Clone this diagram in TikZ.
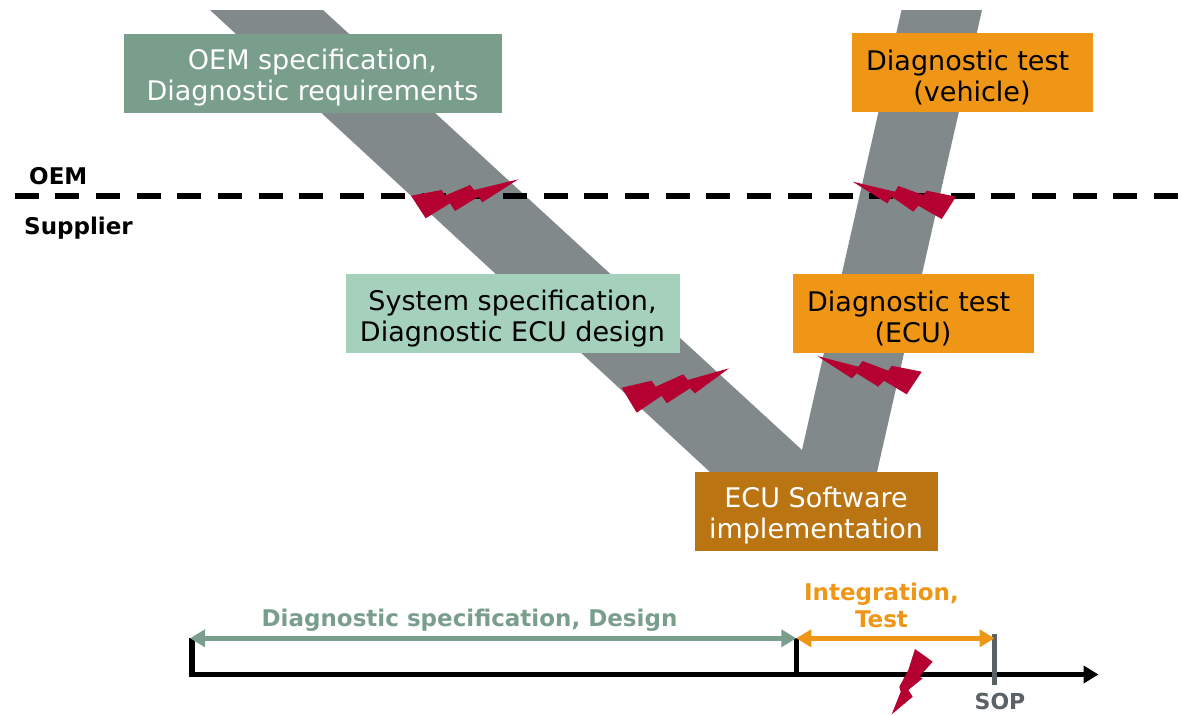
\documentclass[tikz,border=0pt]{standalone}
\usepackage{fontspec}
\usetikzlibrary{arrows.meta}
\setmainfont{DejaVu Sans}
\definecolor{bandgray}{HTML}{82898B}
\definecolor{oemgreen}{HTML}{7A9E8C}
\definecolor{sysgreen}{HTML}{A5D0BC}
\definecolor{testorange}{HTML}{EF9616}
\definecolor{implbrown}{HTML}{BA7412}
\definecolor{boltred}{HTML}{B50032}
\definecolor{sopgray}{HTML}{5A6265}
\newcommand{\firstline}{\rule{0pt}{30pt}}

\begin{document}
\begin{tikzpicture}[x=1pt,y=-1pt]
    \tikzstyle{phase box}=[
        minimum height = 79pt,
        inner sep = 0pt,
        align = center,
        font = \fontsize{27}{31}\selectfont
    ]
    \tikzstyle{small label}=[
        inner sep = 0pt,
        align = center,
        font = \bfseries\fontsize{23}{27}\selectfont
    ]
    \tikzstyle{bolt}=[
        fill = boltred,
        draw = none
    ]
    \tikzstyle{tip}=[
        {Triangle[length=15pt,width=17pt]}-{Triangle[length=15pt,width=17pt]}
    ]
    \useasboundingbox (0, 0) rectangle (1182, 715);

    % V shape
    \fill[bandgray] (210, 10) -- (323, 10) -- (802, 450) -- (901.5, 10) -- (982, 10)
        -- (877, 472) -- (710, 472) -- cycle;

    % OEM / supplier border
    \coordinate (borderl) at (14.5, 196);
    \coordinate (borderr) at (1182, 196);
    \draw[line width = 5.5pt, dash pattern = on 24pt off 16.7pt] (borderl) -- (borderr);
    \node[small label, anchor = west] (oem)      at (29, 176)  {OEM};
    \node[small label, anchor = west] (supplier) at (24, 228)  {Supplier};

    % phases
    \node[phase box, fill = oemgreen, text = white, minimum width = 378pt]  (oemspec) at (312.5, 73)  {\firstline OEM specification,\\Diagnostic requirements};
    \node[phase box, fill = sysgreen, text = black, minimum width = 334pt]  (sysspec) at (512.5, 313.5) {\firstline System specification,\\Diagnostic ECU design};
    \node[phase box, fill = testorange, text = black, minimum width = 241pt] (testveh) at (972, 72.5)  {\firstline Diagnostic test\kern8.6pt\\(vehicle)};
    \node[phase box, fill = testorange, text = black, minimum width = 241pt] (testecu) at (913, 313.5) {\firstline Diagnostic test\kern8.6pt\\(ECU)};
    \node[phase box, fill = implbrown, text = white, minimum width = 243pt]  (impl)    at (816, 511) {\firstline ECU Software\\implementation};

    % faults
    \fill[bolt] (411, 195.7) -- (441.7, 190) -- (445, 195.7) -- (470, 185) -- (474.3, 190) -- (518.3, 179.3)
        -- (482.3, 202.3) -- (478.3, 196.7) -- (455, 211) -- (450, 203.3) -- (425.7, 218.3) -- cycle;
    \fill[bolt] (852.7, 181.7) -- (895, 191.7) -- (898.3, 186) -- (923.3, 195) -- (926.7, 190.7) -- (956, 196.7)
        -- (941.7, 219) -- (918.3, 205.7) -- (913.3, 211.7) -- (891.7, 196.7) -- (887.3, 203.3) -- cycle;
    \fill[bolt] (621.7, 387.7) -- (651.7, 380.7) -- (655.7, 386.7) -- (683.3, 374.3) -- (687.7, 380) -- (729, 368.3)
        -- (695, 393.3) -- (690, 388.3) -- (666.7, 403.3) -- (661.7, 395.7) -- (636.7, 412.7) -- cycle;
    \fill[bolt] (817.3, 356) -- (858.3, 366.7) -- (862.7, 361) -- (888.3, 370.7) -- (891.7, 365.7) -- (921.7, 371.7)
        -- (906.7, 394.3) -- (884, 380.7) -- (878.3, 386.7) -- (856.7, 373.3) -- (851.7, 378.3) -- cycle;

    % timeline
    \coordinate (axisr) at (1098.5, 674.5);
    \coordinate (axisl) at (192, 674.5);
    \coordinate (startl) at (192, 638.3);
    \coordinate (spanl) at (190, 638.3);
    \coordinate (midb) at (796.3, 674.5);
    \coordinate (midt) at (796.3, 638.3);
    \coordinate (sopt) at (994.5, 634);
    \coordinate (sopb) at (994.5, 685);
    \draw[line width = 5.5pt, -{Triangle[length=15pt,width=17pt]}] (startl) -- (axisl) -- (axisr);
    \draw[line width = 5.5pt] (midt) -- (midb);
    \draw[line width = 5.5pt, sopgray] (sopt) -- (sopb);
    \draw[line width = 5.5pt, tip, oemgreen] (spanl) -- (midt);
    \draw[line width = 5.5pt, tip, testorange] (midt) -- (sopt |- midt);
    \fill[bolt] (915, 649) -- (932.7, 661.7) -- (919.3, 676.7) -- (922.7, 678.3) -- (908.3, 690) -- (912.7, 696.7)
        -- (891.7, 714.3) -- (900.7, 691.7) -- (899.3, 686.7) -- (908.3, 670) -- cycle;

    \node[small label, text = oemgreen]   (designlabel) at (469.5, 620) {Diagnostic specification, Design};
    \node[small label, text = testorange] (testlabel)   at (881.5, 605) {Integration,\\Test};
    \node[small label, text = sopgray, font = \bfseries\fontsize{22}{26}\selectfont] (soplabel) at (1000, 701.5) {SOP};
\end{tikzpicture}
\end{document}
